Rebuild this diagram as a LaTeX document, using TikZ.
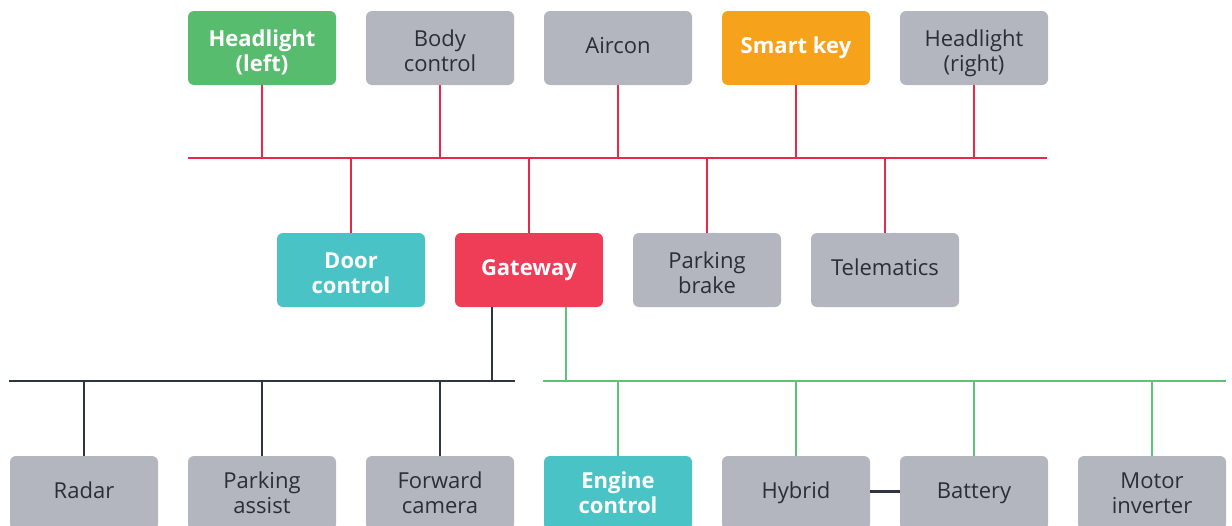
\documentclass[tikz,border=0pt]{standalone}
\usepackage{fontspec}
\setmainfont{Open Sans}
\definecolor{ecugrey}{HTML}{B3B6BF}
\definecolor{ecugreen}{HTML}{57BC6E}
\definecolor{ecuorange}{HTML}{F6A31B}
\definecolor{ecuteal}{HTML}{4AC3C7}
\definecolor{ecured}{HTML}{EF3D57}
\definecolor{busred}{HTML}{E8294A}
\definecolor{busdark}{HTML}{2F3542}
\definecolor{busgreen}{HTML}{5DC378}
\definecolor{txt}{HTML}{2A2E38}
\begin{document}
\begin{tikzpicture}[x=0.75pt,y=-0.75pt,
  ecu/.style={rounded corners=4.5pt, minimum width=111pt, minimum height=55.5pt,
    inner sep=0pt, align=center, font=\fontsize{16.5}{18.75}\selectfont, text=txt},
  grey/.style={ecu, fill=ecugrey},
  hot/.style={ecu, font=\fontsize{16.5}{18.75}\selectfont\bfseries, text=white},
  oneline/.style={text height=12.5pt, text depth=4pt},
  twoline/.style={text height=35pt, text depth=0pt},
  redline/.style={draw=busred, line width=1.5pt},
  darkline/.style={draw=busdark, line width=1.5pt},
  greenline/.style={draw=busgreen, line width=1.5pt}]
\useasboundingbox (0,0) rectangle (1232,525);
\clip (0,0) rectangle (1232,525);

% top row
\node[hot, fill=ecugreen, twoline] (hll) at (262,48) {Headlight\\(left)};
\node[grey, twoline] (body) at (440,48) {Body\\control};
\node[grey, oneline] (air) at (618,48) {Aircon};
\node[hot, fill=ecuorange, oneline] (key) at (796,48) {Smart key};
\node[grey, twoline] (hlr) at (974,48) {Headlight\\(right)};

% middle row
\node[hot, fill=ecuteal, twoline] (door) at (351,270) {Door\\control};
\node[hot, fill=ecured, oneline] (gw) at (529,270) {Gateway};
\node[grey, twoline] (pbrake) at (707,270) {Parking\\brake};
\node[grey, oneline] (tele) at (885,270) {Telematics};

% bottom row
\node[grey, oneline] (radar) at (84,493) {Radar};
\node[grey] (passist) at (262,493) {Parking\\assist};
\node[grey] (fcam) at (440,493) {Forward\\camera};
\node[hot, fill=ecuteal] (engine) at (618,493) {Engine\\control};
\node[grey, oneline] (hybrid) at (796,493) {Hybrid};
\node[grey, oneline] (batt) at (974,493) {Battery};
\node[grey] (motor) at (1152,493) {Motor\\inverter};

% bus coordinates
\coordinate (redL) at (188,158);
\coordinate (redR) at (1047,158);
\coordinate (darkL) at (9,381);
\coordinate (darkR) at (515,381);
\coordinate (greenL) at (543,381);
\coordinate (greenR) at (1226,381);

% red bus
\draw[redline] (redL) -- (redR);
\foreach \n in {hll,body,air,key,hlr}
  \draw[redline] (\n.south) -- (\n.south |- redL);
\foreach \n in {door,gw,pbrake,tele}
  \draw[redline] (\n.north) -- (\n.north |- redL);

% dark bus
\coordinate (gwdark) at ([xshift=-28pt]gw.south);
\draw[darkline] (darkL) -- (darkR);
\draw[darkline] (gwdark) -- (gwdark |- darkL);
\foreach \n in {radar,passist,fcam}
  \draw[darkline] (\n.north) -- (\n.north |- darkL);

% green bus
\coordinate (gwgreen) at ([xshift=27.75pt]gw.south);
\draw[greenline] (greenL) -- (greenR);
\draw[greenline] (gwgreen) -- (gwgreen |- greenL);
\foreach \n in {engine,hybrid,batt,motor}
  \draw[greenline] (\n.north) -- (\n.north |- greenL);

% hybrid - battery
\draw[draw=busdark, line width=2.25pt] ([yshift=1.5pt]hybrid.east) -- ([yshift=1.5pt]batt.west);
\end{tikzpicture}
\end{document}
